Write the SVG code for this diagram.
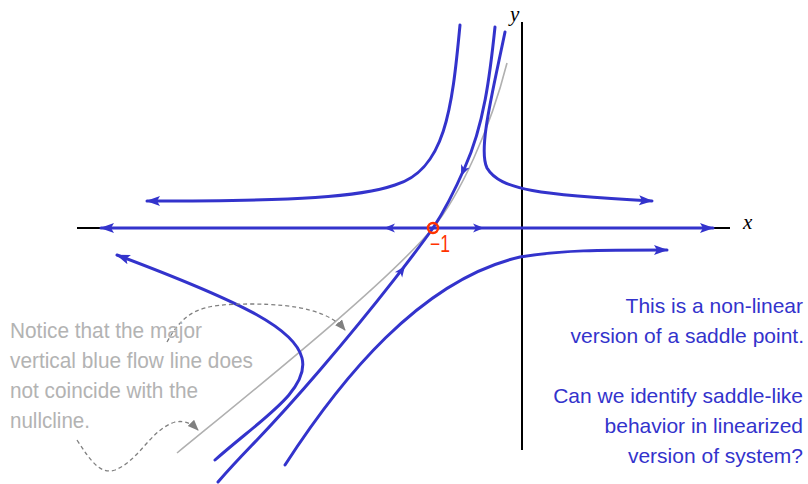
<svg xmlns="http://www.w3.org/2000/svg" xmlns:xlink="http://www.w3.org/1999/xlink" width="808" height="484" viewBox="0 0 808 484">
<style>
.axis{stroke:#000;stroke-width:2;fill:none}
.flow{stroke:#3333cc;stroke-width:3;fill:none;stroke-linecap:round}
.null{stroke:#b0b0b0;stroke-width:1.6;fill:none}
.dash{stroke:#808080;stroke-width:1.3;fill:none;stroke-dasharray:4 3}
.note{font-family:"Liberation Sans",Arial,sans-serif;font-size:22px;fill:#b3b3b3}
.blue{font-family:"Liberation Sans",Arial,sans-serif;font-size:21px;fill:#3333cc;text-anchor:end}
.lab{font-family:"Liberation Serif","Times New Roman",serif;font-style:italic;font-size:21px;fill:#000}
</style>
<defs>
<marker id="ah" markerUnits="userSpaceOnUse" markerWidth="16" markerHeight="12" refX="13" refY="5" orient="auto-start-reverse">
<path d="M0,0 L14,5 L0,10 L3,5 Z" fill="#3333cc"/>
</marker>
<marker id="gh" markerUnits="userSpaceOnUse" markerWidth="12" markerHeight="10" refX="10" refY="4.5" orient="auto">
<path d="M0,0 L11,4.5 L0,9 Z" fill="#808080"/>
</marker>
<path id="tri" d="M0,0 L-11,-4.5 L-8,0 L-11,4.5 Z" fill="#3333cc"/>
</defs>

<g id="axes">
<line class="axis" x1="77" y1="228" x2="730" y2="228"/>
<line class="axis" x1="522" y1="22" x2="522" y2="450"/>
<text class="lab" x="743" y="229">x</text>
<text class="lab" x="510" y="21">y</text>
</g>

<g id="nullcline">
<path class="null" d="M177,453 C260,385 385,285 433,228 C460,195 490,130 507,63"/>
</g>

<g id="connectors">
<path class="flow" d="M101,228 L713,228" marker-start="url(#ah)" marker-end="url(#ah)"/>
<use href="#tri" transform="translate(384,228) rotate(180)"/>
<use href="#tri" transform="translate(484,228)"/>
<path class="flow" d="M495,27 C490,75 484,125 465,167 C455,190 445,210 433,228 C421,245 380,300 320,370 S250,445 218,482"/>
<use href="#tri" transform="translate(461,176) rotate(113)"/>
<use href="#tri" transform="translate(405,266) rotate(-54)"/>
<path class="flow" d="M460,25 C452,110 445,170 395,185 C360,197 300,201 147,201" marker-end="url(#ah)"/>
<path class="flow" d="M505,32 C492,95 478,150 487,168 C500,190 540,195 652,201" marker-end="url(#ah)"/>
<path class="flow" d="M215,460 C260,420 310,390 302,358 C295,330 250,305 117,255" marker-end="url(#ah)"/>
<path class="flow" d="M285,465 C340,380 420,280 520,257 C560,250 600,250 667,250" marker-end="url(#ah)"/>
<path class="dash" d="M167,342 C185,310 200,304 250,304 C300,304 330,312 345,330" marker-end="url(#gh)"/>
<path class="dash" d="M77,440 C90,460 100,475 115,470 C140,460 150,430 175,422 C185,420 192,424 198,430" marker-end="url(#gh)"/>
</g>

<g id="saddle">
<circle cx="433" cy="228" r="5" fill="none" stroke="#ff3300" stroke-width="2.5"/>
<text x="430" y="252" font-family="'Liberation Sans',Arial,sans-serif" font-size="23" fill="#ff3300" textLength="20" lengthAdjust="spacingAndGlyphs">−1</text>
</g>

<g id="note">
<text class="note" x="10" y="338" textLength="192" lengthAdjust="spacingAndGlyphs">Notice that the major</text>
<text class="note" x="10" y="368" textLength="243" lengthAdjust="spacingAndGlyphs">vertical blue flow line does</text>
<text class="note" x="10" y="398" textLength="188" lengthAdjust="spacingAndGlyphs">not coincide with the</text>
<text class="note" x="10" y="428" textLength="80" lengthAdjust="spacingAndGlyphs">nullcline.</text>
</g>

<g id="remark">
<text class="blue" x="803" y="313">This is a non-linear</text>
<text class="blue" x="804" y="343">version of a saddle point.</text>
<text class="blue" x="803" y="403">Can we identify saddle-like</text>
<text class="blue" x="803" y="433">behavior in linearized</text>
<text class="blue" x="803" y="463">version of system?</text>
</g>
</svg>
